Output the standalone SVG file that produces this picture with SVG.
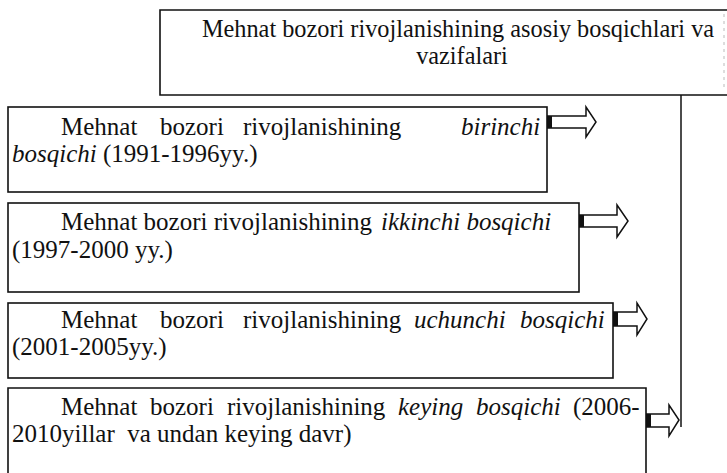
<svg xmlns="http://www.w3.org/2000/svg" width="727" height="473" viewBox="0 0 727 473">
<style>
.box{fill:#fff;stroke:#111;stroke-width:1.6}
.t{font-family:'Liberation Serif',Tinos,'Times New Roman',Times,'DejaVu Serif','Noto Serif',serif;font-size:25px;fill:#111}
.tt{font-family:'Liberation Serif',Tinos,'Times New Roman',Times,'DejaVu Serif','Noto Serif',serif;font-size:24.3px;fill:#111;text-anchor:middle}
.i{font-style:italic}
.line{fill:none;stroke:#111;stroke-width:1.5}
.arr{fill:#fff;stroke:#111;stroke-width:1.5;stroke-linejoin:miter}
.band{fill:#111}
</style>
<rect width="727" height="473" fill="#fff"/>
<g id="connectors">
  <line class="line" x1="681" y1="95" x2="681" y2="427"/>
  <path class="arr" d="M547,116 H586 V107 L596,122 L586,137 V128 H547 Z"/>
  <rect class="band" x="547" y="116" width="5" height="12"/>
  <path class="arr" d="M579,215 H617 V205 L628,221 L617,237 V227 H579 Z"/>
  <rect class="band" x="579" y="215" width="5" height="12"/>
  <path class="arr" d="M613,312 H637 V303 L647,319 L637,335 V326 H613 Z"/>
  <rect class="band" x="613" y="312" width="5" height="14"/>
  <path class="arr" d="M646,414 H669 V405 L679,420 L669,436 V427 H646 Z"/>
  <rect class="band" x="646" y="414" width="5" height="13"/>
</g>
<g id="top">
  <path class="box" d="M727,10 H160 V95 H727"/>
  <line x1="724" y1="14" x2="724" y2="90" stroke="#bbb" stroke-width="1" stroke-dasharray="3 4"/>
  <text class="tt" x="458" y="37">Mehnat bozori rivojlanishining asosiy bosqichlari va</text>
  <text class="tt" x="462" y="64">vazifalari</text>
</g>
<g id="stage1">
  <rect class="box" x="8" y="107" width="539" height="85"/>
  <text class="t" y="135"><tspan x="61">Mehnat</tspan><tspan x="160">bozori</tspan><tspan x="243">rivojlanishining</tspan><tspan class="i" x="461">birinchi</tspan></text>
  <text class="t" x="12" y="162"><tspan class="i">bosqichi</tspan> (1991-1996yy.)</text>
</g>
<g id="stage2">
  <rect class="box" x="8" y="203" width="571" height="89"/>
  <text class="t" y="230"><tspan x="61">Mehnat bozori rivojlanishining</tspan><tspan class="i" x="381">ikkinchi bosqichi</tspan></text>
  <text class="t" x="12" y="258">(1997-2000 yy.)</text>
</g>
<g id="stage3">
  <rect class="box" x="8" y="303" width="605" height="75"/>
  <text class="t" y="328"><tspan x="61">Mehnat</tspan><tspan x="160">bozori</tspan><tspan x="243">rivojlanishining</tspan><tspan class="i" x="414">uchunchi</tspan><tspan class="i" x="520">bosqichi</tspan></text>
  <text class="t" x="12" y="355">(2001-2005yy.)</text>
</g>
<g id="stage4">
  <path class="box" d="M8,473 V388 H646 V473"/>
  <text class="t" y="415"><tspan x="61">Mehnat</tspan><tspan x="150">bozori</tspan><tspan x="227">rivojlanishining</tspan><tspan class="i" x="398">keying</tspan><tspan class="i" x="476">bosqichi</tspan><tspan x="573">(2006-</tspan></text>
  <text class="t" x="12" y="442" xml:space="preserve">2010yillar  va undan keying davr)</text>
</g>
</svg>
